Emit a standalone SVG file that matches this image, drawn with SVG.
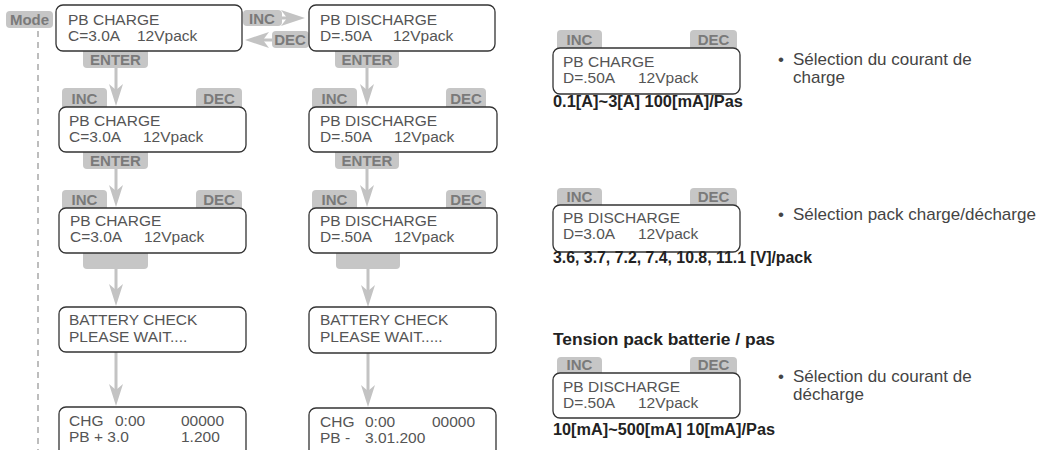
<svg xmlns="http://www.w3.org/2000/svg" width="1037" height="450" viewBox="0 0 1037 450">
<style>
.box{fill:#fff;stroke:#333;stroke-width:1.3}
.tab{fill:#c6c6c6}
.tt{font-family:"Liberation Sans",Arial,sans-serif;font-weight:bold;font-size:15px;fill:#7a7a7a;text-anchor:middle}
.lcd{font-family:"Liberation Sans",Arial,sans-serif;font-size:15.5px;fill:#555}
.lbl{font-family:"Liberation Sans",Arial,sans-serif;font-weight:bold;font-size:16px;fill:#222}
.bul{font-family:"Liberation Sans",Arial,sans-serif;font-size:17px;fill:#444}
.ln{stroke:#c3c3c3;stroke-width:3;fill:none}
</style>
<defs>
<marker id="ah" markerUnits="userSpaceOnUse" markerWidth="22" markerHeight="14" viewBox="0 0 22 14" refX="6" refY="7" orient="auto">
<path d="M0,0 L22,7 L0,14 L6,7 Z" fill="#c3c3c3"/>
</marker>
<marker id="ah2" markerUnits="userSpaceOnUse" markerWidth="24" markerHeight="16" viewBox="0 0 24 16" refX="6" refY="8" orient="auto">
<path d="M0,0 L24,8 L0,16 L6,8 Z" fill="#c3c3c3"/>
</marker>
</defs>

<g id="mode">
<rect class="tab" x="6" y="11" width="47" height="17" rx="4"/>
<text class="tt" x="29.5" y="25">Mode</text>
<line x1="38" y1="31" x2="38" y2="450" stroke="#bdbdbd" stroke-width="2" stroke-dasharray="6 5"/>
</g>

<g id="connectors">
<line class="ln" x1="280" y1="18" x2="287" y2="18" marker-end="url(#ah2)"/>
<line class="ln" x1="274" y1="40" x2="263" y2="40" marker-end="url(#ah2)"/>
<line class="ln" x1="116" y1="68" x2="116" y2="90" marker-end="url(#ah)"/>
<line class="ln" x1="116" y1="169" x2="116" y2="191" marker-end="url(#ah)"/>
<line class="ln" x1="116" y1="269" x2="116" y2="290" marker-end="url(#ah)"/>
<line class="ln" x1="116" y1="352" x2="116" y2="390" marker-end="url(#ah)"/>
<line class="ln" x1="367" y1="68" x2="367" y2="90" marker-end="url(#ah)"/>
<line class="ln" x1="367" y1="169" x2="367" y2="191" marker-end="url(#ah)"/>
<line class="ln" x1="368" y1="269" x2="368" y2="291" marker-end="url(#ah)"/>
<line class="ln" x1="368" y1="353" x2="368" y2="391" marker-end="url(#ah)"/>
</g>

<g id="arrow-tabs">
<rect class="tab" x="243" y="10" width="39" height="16" rx="4"/>
<text class="tt" x="262" y="23.5">INC</text>
<rect class="tab" x="272" y="31" width="37" height="17" rx="4"/>
<text class="tt" x="290" y="45">DEC</text>
</g>

<g id="L1">
<rect class="tab" x="83" y="45" width="65" height="23" rx="4"/>
<text class="tt" x="115.5" y="65">ENTER</text>
<rect class="box" x="56" y="5" width="186" height="46" rx="7"/>
<text class="lcd" x="68" y="25">PB CHARGE</text>
<text class="lcd" x="68" y="40.5">C=3.0A</text>
<text class="lcd" x="137" y="40.5">12Vpack</text>
</g>

<g id="L2">
<rect class="tab" x="62" y="88" width="45" height="24" rx="4"/>
<text class="tt" x="84.5" y="104">INC</text>
<rect class="tab" x="196" y="88" width="46" height="24" rx="4"/>
<text class="tt" x="219" y="104">DEC</text>
<rect class="tab" x="83" y="147" width="65" height="22" rx="4"/>
<text class="tt" x="115.5" y="166">ENTER</text>
<rect class="box" x="59" y="107" width="187" height="45" rx="7"/>
<text class="lcd" x="69" y="125.5">PB CHARGE</text>
<text class="lcd" x="69" y="141.5">C=3.0A</text>
<text class="lcd" x="143" y="141.5">12Vpack</text>
</g>

<g id="L3">
<rect class="tab" x="62" y="190" width="45" height="24" rx="4"/>
<text class="tt" x="84.5" y="205">INC</text>
<rect class="tab" x="196" y="190" width="46" height="24" rx="4"/>
<text class="tt" x="219" y="205">DEC</text>
<rect class="tab" x="83" y="248" width="65" height="21" rx="4"/>
<rect class="box" x="59" y="208" width="187" height="45" rx="7"/>
<text class="lcd" x="70" y="226">PB CHARGE</text>
<text class="lcd" x="70" y="242">C=3.0A</text>
<text class="lcd" x="144" y="242">12Vpack</text>
</g>

<g id="L4">
<rect class="box" x="59" y="307" width="187" height="45" rx="7"/>
<text class="lcd" x="69" y="325">BATTERY CHECK</text>
<text class="lcd" x="69" y="342">PLEASE WAIT....</text>
</g>

<g id="L5">
<rect class="box" x="59" y="407" width="187" height="50" rx="7"/>
<text class="lcd" x="69" y="426">CHG</text>
<text class="lcd" x="115" y="426">0:00</text>
<text class="lcd" x="181" y="426">00000</text>
<text class="lcd" x="69" y="442">PB + 3.0</text>
<text class="lcd" x="181" y="442">1.200</text>
</g>

<g id="R1">
<rect class="tab" x="335" y="45" width="64" height="23" rx="4"/>
<text class="tt" x="367" y="65">ENTER</text>
<rect class="box" x="309" y="5" width="186" height="46" rx="7"/>
<text class="lcd" x="320" y="25">PB DISCHARGE</text>
<text class="lcd" x="320" y="40.5">D=.50A</text>
<text class="lcd" x="393" y="40.5">12Vpack</text>
</g>

<g id="R2">
<rect class="tab" x="312" y="88" width="45" height="24" rx="4"/>
<text class="tt" x="334.5" y="104">INC</text>
<rect class="tab" x="446" y="88" width="40" height="24" rx="4"/>
<text class="tt" x="466" y="104">DEC</text>
<rect class="tab" x="335" y="147" width="64" height="22" rx="4"/>
<text class="tt" x="367" y="166">ENTER</text>
<rect class="box" x="309" y="107" width="188" height="45" rx="7"/>
<text class="lcd" x="320" y="125.5">PB DISCHARGE</text>
<text class="lcd" x="320" y="141.5">D=.50A</text>
<text class="lcd" x="394" y="141.5">12Vpack</text>
</g>

<g id="R3">
<rect class="tab" x="312" y="190" width="45" height="24" rx="4"/>
<text class="tt" x="334.5" y="205">INC</text>
<rect class="tab" x="446" y="190" width="40" height="24" rx="4"/>
<text class="tt" x="466" y="205">DEC</text>
<rect class="tab" x="336" y="248" width="64" height="21" rx="4"/>
<rect class="box" x="309" y="208" width="188" height="45" rx="7"/>
<text class="lcd" x="320" y="226">PB DISCHARGE</text>
<text class="lcd" x="320" y="242">D=.50A</text>
<text class="lcd" x="394" y="242">12Vpack</text>
</g>

<g id="R4">
<rect class="box" x="309" y="307" width="187" height="46" rx="7"/>
<text class="lcd" x="320" y="325">BATTERY CHECK</text>
<text class="lcd" x="320" y="342">PLEASE WAIT.....</text>
</g>

<g id="R5">
<rect class="box" x="309" y="408" width="187" height="50" rx="7"/>
<text class="lcd" x="320" y="427">CHG</text>
<text class="lcd" x="365" y="427">0:00</text>
<text class="lcd" x="432" y="427">00000</text>
<text class="lcd" x="320" y="443">PB -</text>
<text class="lcd" x="365" y="443">3.01.200</text>
</g>

<g id="S1">
<rect class="tab" x="557" y="30" width="45" height="22" rx="4"/>
<text class="tt" x="579.5" y="45">INC</text>
<rect class="tab" x="690" y="30" width="47" height="22" rx="4"/>
<text class="tt" x="713.5" y="45">DEC</text>
<rect class="box" x="553" y="48" width="187" height="46" rx="7"/>
<text class="lcd" x="563" y="67">PB CHARGE</text>
<text class="lcd" x="563" y="83">D=.50A</text>
<text class="lcd" x="638" y="83">12Vpack</text>
<text class="lbl" x="553" y="107" textLength="190" lengthAdjust="spacingAndGlyphs">0.1[A]~3[A] 100[mA]/Pas</text>
<text class="bul" x="778" y="65">•</text>
<text class="bul" x="793" y="65">Sélection du courant de</text>
<text class="bul" x="793" y="83">charge</text>
</g>

<g id="S2">
<rect class="tab" x="557" y="188" width="45" height="22" rx="4"/>
<text class="tt" x="579.5" y="202">INC</text>
<rect class="tab" x="690" y="188" width="47" height="22" rx="4"/>
<text class="tt" x="713.5" y="202">DEC</text>
<rect class="box" x="553" y="205" width="187" height="47" rx="7"/>
<text class="lcd" x="563" y="223">PB DISCHARGE</text>
<text class="lcd" x="563" y="239">D=3.0A</text>
<text class="lcd" x="638" y="239">12Vpack</text>
<text class="lbl" x="553" y="263" textLength="259" lengthAdjust="spacingAndGlyphs">3.6, 3.7, 7.2, 7.4, 10.8, 11.1 [V]/pack</text>
<text class="bul" x="778" y="220">•</text>
<text class="bul" x="793" y="220">Sélection pack charge/décharge</text>
</g>

<g id="S3">
<text class="lbl" x="553" y="345" textLength="222" lengthAdjust="spacingAndGlyphs">Tension pack batterie / pas</text>
<rect class="tab" x="557" y="357" width="45" height="21" rx="4"/>
<text class="tt" x="579.5" y="370">INC</text>
<rect class="tab" x="690" y="357" width="47" height="21" rx="4"/>
<text class="tt" x="713.5" y="370">DEC</text>
<rect class="box" x="553" y="373" width="187" height="45" rx="7"/>
<text class="lcd" x="563" y="392">PB DISCHARGE</text>
<text class="lcd" x="563" y="408">D=.50A</text>
<text class="lcd" x="638" y="408">12Vpack</text>
<text class="lbl" x="553" y="435" textLength="222" lengthAdjust="spacingAndGlyphs">10[mA]~500[mA] 10[mA]/Pas</text>
<text class="bul" x="778" y="382">•</text>
<text class="bul" x="793" y="382">Sélection du courant de</text>
<text class="bul" x="793" y="400">décharge</text>
</g>
</svg>
